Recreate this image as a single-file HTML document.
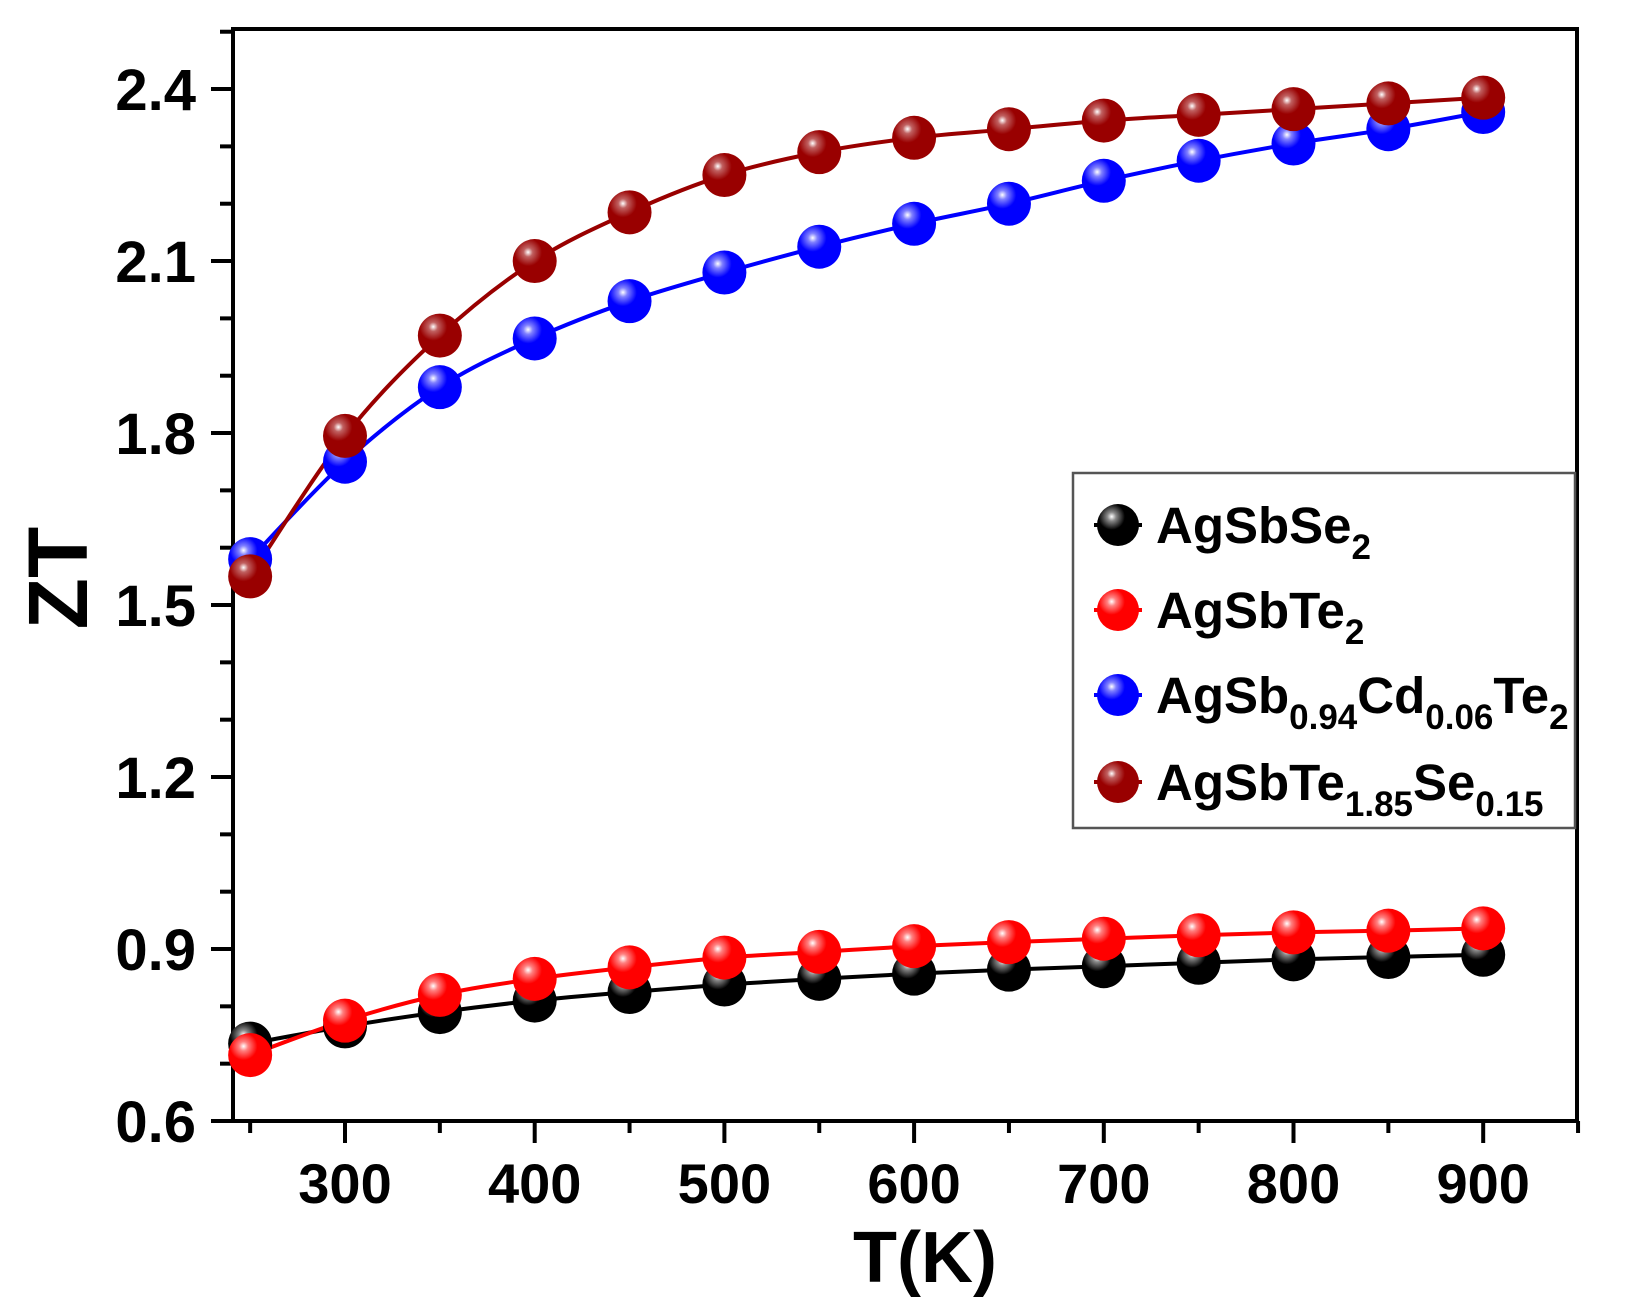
<!DOCTYPE html>
<html><head><meta charset="utf-8"><style>
html,body{margin:0;padding:0;background:#fff;}
svg{display:block;font-family:"Liberation Sans",Arial,sans-serif;font-weight:bold;}
</style></head><body>
<svg id="s" width="1627" height="1309" viewBox="0 0 1627 1309" xmlns="http://www.w3.org/2000/svg">
<defs>
<radialGradient id="gk" cx="0.35" cy="0.3" r="0.7"><stop offset="0" stop-color="#fff"/><stop offset="0.15" stop-color="#888"/><stop offset="0.45" stop-color="#000"/><stop offset="1" stop-color="#000"/></radialGradient>
<radialGradient id="gr" cx="0.35" cy="0.3" r="0.7"><stop offset="0" stop-color="#fff"/><stop offset="0.15" stop-color="#ff8080"/><stop offset="0.45" stop-color="#ff0000"/><stop offset="1" stop-color="#f00"/></radialGradient>
<radialGradient id="gb" cx="0.35" cy="0.3" r="0.7"><stop offset="0" stop-color="#fff"/><stop offset="0.15" stop-color="#8080ff"/><stop offset="0.45" stop-color="#0000ff"/><stop offset="1" stop-color="#00f"/></radialGradient>
<radialGradient id="gm" cx="0.35" cy="0.3" r="0.7"><stop offset="0" stop-color="#fff"/><stop offset="0.15" stop-color="#c06060"/><stop offset="0.45" stop-color="#990000"/><stop offset="1" stop-color="#900"/></radialGradient>
</defs>
<g id="ax" stroke="#000" stroke-width="4" fill="none"></g>
<g id="data"></g>
<g font-size="58" text-anchor="end" id="yl"></g>
<g font-size="56" text-anchor="middle" id="xl"></g>
<text x="0" y="0" font-size="84" text-anchor="middle" transform="translate(87,578) rotate(-90)">ZT</text>
<text x="925" y="1282" font-size="72" text-anchor="middle">T(K)</text>
<rect x="1073" y="473" width="502" height="355" fill="#fff" stroke="#555" stroke-width="2.5"/>
<g id="leg"></g>
<g font-size="51">
<text x="1156" y="543">AgSbSe<tspan font-size="35" dy="16">2</tspan></text>
<text x="1156" y="628">AgSbTe<tspan font-size="35" dy="16">2</tspan></text>
<text x="1156" y="713">AgSb<tspan font-size="35" dy="16">0.94</tspan><tspan dy="-16">Cd</tspan><tspan font-size="35" dy="16">0.06</tspan><tspan dy="-16">Te</tspan><tspan font-size="35" dy="16">2</tspan></text>
<text x="1156" y="800">AgSbTe<tspan font-size="35" dy="16">1.85</tspan><tspan dy="-16">Se</tspan><tspan font-size="35" dy="16">0.15</tspan></text>
</g>
</svg>
<script>
const NS="http://www.w3.org/2000/svg";
function el(p,t,a){const e=document.createElementNS(NS,t);for(const k in a)e.setAttribute(k,a[k]);p.appendChild(e);return e;}
const X=T=>345+(T-300)*1.897, Y=v=>1121-(v-0.6)*573.3;
const ax=document.getElementById('ax');
el(ax,'rect',{x:233,y:29,width:1344,height:1092});
for(let i=0;i<=19;i++){const v=0.6+i*0.1;const y=Y(v);const maj=i%3==0;el(ax,'line',{x1:233,y1:y,x2:maj?211:220,y2:y});
 if(maj){const t=el(document.getElementById('yl'),'text',{x:196,y:y+21});t.textContent=v.toFixed(1);}}
for(let T=250;T<=950;T+=50){const x=X(T);const maj=T%100==0;el(ax,'line',{x1:x,y1:1121,x2:x,y2:maj?1143:1133});
 if(maj){const t=el(document.getElementById('xl'),'text',{x:x,y:1203});t.textContent=T;}}
const Ts=[250,300,350,400,450,500,550,600,650,700,750,800,850,900];
const S=[
['#000','gk',[0.735,0.765,0.79,0.81,0.825,0.838,0.848,0.857,0.864,0.87,0.876,0.882,0.886,0.89]],
['#f00','gr',[0.715,0.775,0.82,0.848,0.868,0.885,0.895,0.905,0.912,0.918,0.924,0.929,0.932,0.936]],
['#00f','gb',[1.58,1.75,1.88,1.965,2.03,2.08,2.125,2.165,2.2,2.24,2.275,2.305,2.33,2.36]],
['#900','gm',[1.55,1.795,1.97,2.10,2.185,2.25,2.29,2.315,2.33,2.345,2.355,2.365,2.375,2.385]]];
const d=document.getElementById('data');
S.forEach(s=>{const P=Ts.map((T,i)=>[X(T),Y(s[2][i])]);const n=P.length;
 let p='M'+P[0].join(',');
 for(let i=0;i<n-1;i++){const p0=P[Math.max(i-1,0)],p1=P[i],p2=P[i+1],p3=P[Math.min(i+2,n-1)];
  const c1=[p1[0]+(p2[0]-p0[0])/6,p1[1]+(p2[1]-p0[1])/6],c2=[p2[0]-(p3[0]-p1[0])/6,p2[1]-(p3[1]-p1[1])/6];
  p+=` C${c1} ${c2} ${p2}`;}
 el(d,'path',{d:p,stroke:s[0],'stroke-width':4,fill:'none'});});
S.forEach(s=>{Ts.forEach((T,i)=>el(d,'circle',{cx:X(T),cy:Y(s[2][i]),r:22,fill:`url(#${s[1]})`}));});
const lg=document.getElementById('leg');
[525,610,695,782].forEach((y,i)=>{el(lg,'line',{x1:1094,y1:y,x2:1142,y2:y,stroke:S[i][0],'stroke-width':4});el(lg,'circle',{cx:1118,cy:y,r:21,fill:`url(#${S[i][1]})`});});
</script>
</body></html>
